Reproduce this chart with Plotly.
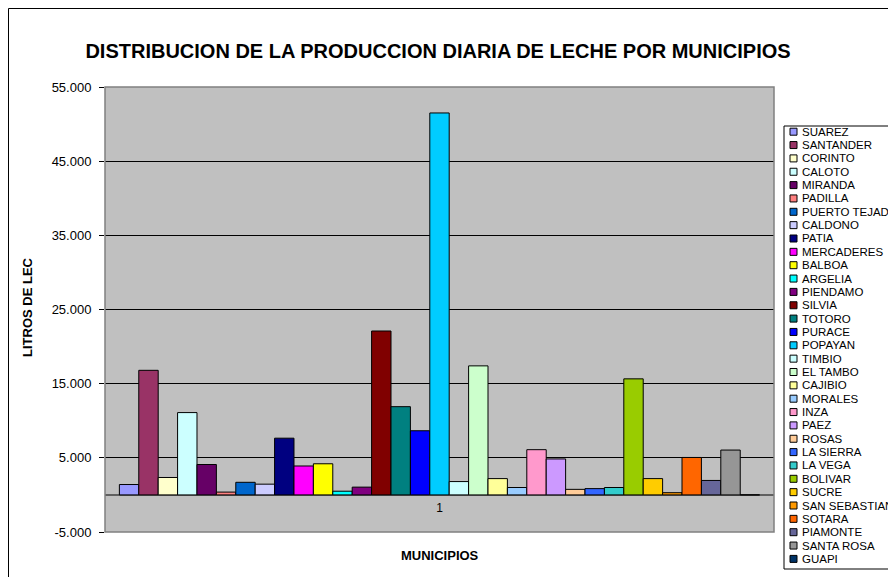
import plotly.graph_objects as go

# municipios y litros de leche diarios
municipios = ["SUAREZ", "SANTANDER", "CORINTO", "CALOTO", "MIRANDA", "PADILLA",
              "PUERTO TEJADA", "CALDONO", "PATIA", "MERCADERES", "BALBOA", "ARGELIA",
              "PIENDAMO", "SILVIA", "TOTORO", "PURACE", "POPAYAN", "TIMBIO", "EL TAMBO",
              "CAJIBIO", "MORALES", "INZA", "PAEZ", "ROSAS", "LA SIERRA", "LA VEGA",
              "BOLIVAR", "SUCRE", "SAN SEBASTIAN", "SOTARA", "PIAMONTE", "SANTA ROSA", "GUAPI"]
litros = [1400, 16800, 2350, 11100, 4100, 380,
          1700, 1450, 7650, 3900, 4200, 500,
          1050, 22100, 11900, 8650, 51500, 1800, 17400,
          2200, 1000, 6100, 4850, 750, 850, 1000,
          15650, 2200, 300, 5050, 1950, 6050, 0]
colores = ["#9999FF", "#993366", "#FFFFCC", "#CCFFFF", "#660066", "#FF8080",
           "#0066CC", "#CCCCFF", "#000080", "#FF00FF", "#FFFF00", "#00FFFF",
           "#800080", "#800000", "#008080", "#0000FF", "#00CCFF", "#CCFFFF", "#CCFFCC",
           "#FFFF99", "#99CCFF", "#FF99CC", "#CC99FF", "#FFCC99", "#3366FF", "#33CCCC",
           "#99CC00", "#FFCC00", "#FF9900", "#FF6600", "#666699", "#969696", "#003366"]
categoria = ["1"]
y_ticks = [-5000, 5000, 15000, 25000, 35000, 45000, 55000]
y_labels = ["-5.000", "5.000", "15.000", "25.000", "35.000", "45.000", "55.000"]

# la pagina tiene 8px de margen en el body
OFF = 8
W, H = 896 - OFF, 577 - OFF
L, R, T, B = 105 - OFF, 774 - OFF, 87 - OFF, 532 - OFF
FONT = "Arial, Liberation Sans, sans-serif"


def px_x(px):
    # px en coordenadas de la captura
    return (px - OFF - L) / (R - L)


def px_y(py):
    return (B - (py - OFF)) / (B - T)


fig = go.Figure()
for nombre, valor, color in zip(municipios, litros, colores):
    fig.add_trace(go.Bar(x=categoria, y=[valor], name=nombre,
                         marker=dict(color=color, line=dict(color="black", width=1))))

# leyenda dibujada a mano (estilo Excel, items compactos)
shapes = [dict(type="rect", xref="paper", yref="paper",
               x0=px_x(784), x1=px_x(910), y0=px_y(569), y1=px_y(126),
               line=dict(color="black", width=1), fillcolor="white", layer="above"),
          dict(type="rect", xref="paper", yref="paper",
               x0=0, x1=1, y0=0, y1=1, line=dict(color="#808080", width=1.5), layer="above"),
          dict(type="rect", xref="paper", yref="paper",
               x0=px_x(8.5), x1=px_x(920), y0=px_y(600), y1=px_y(8.5),
               line=dict(color="black", width=1), layer="below")]
annotations = []
for i, (nombre, color) in enumerate(zip(municipios, colores)):
    yc = 131.7 + 13.35 * i
    shapes.append(dict(type="rect", xref="paper", yref="paper",
                       x0=px_x(790), x1=px_x(797), y0=px_y(yc + 3.5), y1=px_y(yc - 3.5),
                       fillcolor=color, line=dict(color="black", width=1), layer="above"))
    annotations.append(dict(x=px_x(800), y=px_y(yc), xref="paper", yref="paper",
                            text=nombre, showarrow=False, xanchor="left", yanchor="middle",
                            font=dict(size=11.5, color="black", family=FONT)))

annotations.append(dict(x=px_x(27), y=px_y(307), xref="paper", yref="paper",
                        text="<b>LITROS DE LEC</b>", showarrow=False, textangle=-90,
                        xanchor="center", yanchor="middle",
                        font=dict(size=13, color="black", family=FONT)))
annotations.append(dict(x=px_x(440), y=px_y(555), xref="paper", yref="paper",
                        text="<b>MUNICIPIOS</b>", showarrow=False,
                        xanchor="center", yanchor="middle",
                        font=dict(size=13, color="black", family=FONT)))

fig.update_layout(
    width=W, height=H,
    margin=dict(l=L, r=W - R, t=T, b=H - B),
    paper_bgcolor="white", plot_bgcolor="#C0C0C0",
    barmode="group", bargap=0.043, bargroupgap=0,
    showlegend=False,
    title=dict(text="<b>DISTRIBUCION DE LA PRODUCCION DIARIA DE LECHE POR MUNICIPIOS</b>",
               x=(438 - OFF) / W, xanchor="center", y=1 - (51 - OFF) / H, yanchor="middle",
               font=dict(size=20, color="black", family=FONT)),
    shapes=shapes, annotations=annotations,
)
fig.update_yaxes(range=[-5000, 55000], tickmode="array", tickvals=y_ticks, ticktext=y_labels,
                 showgrid=True, gridcolor="black", gridwidth=1,
                 zeroline=True, zerolinecolor="#606060", zerolinewidth=2,
                 ticks="outside", ticklen=5, tickcolor="black", ticklabelstandoff=5,
                 showline=False, tickfont=dict(size=13, color="black", family=FONT))
fig.update_xaxes(type="category", anchor="free", position=px_y(495),
                 showgrid=False, zeroline=False, showline=False, ticks="",
                 ticklabelstandoff=4,
                 tickfont=dict(size=12, color="black", family=FONT))

fig.write_html("out.html")
